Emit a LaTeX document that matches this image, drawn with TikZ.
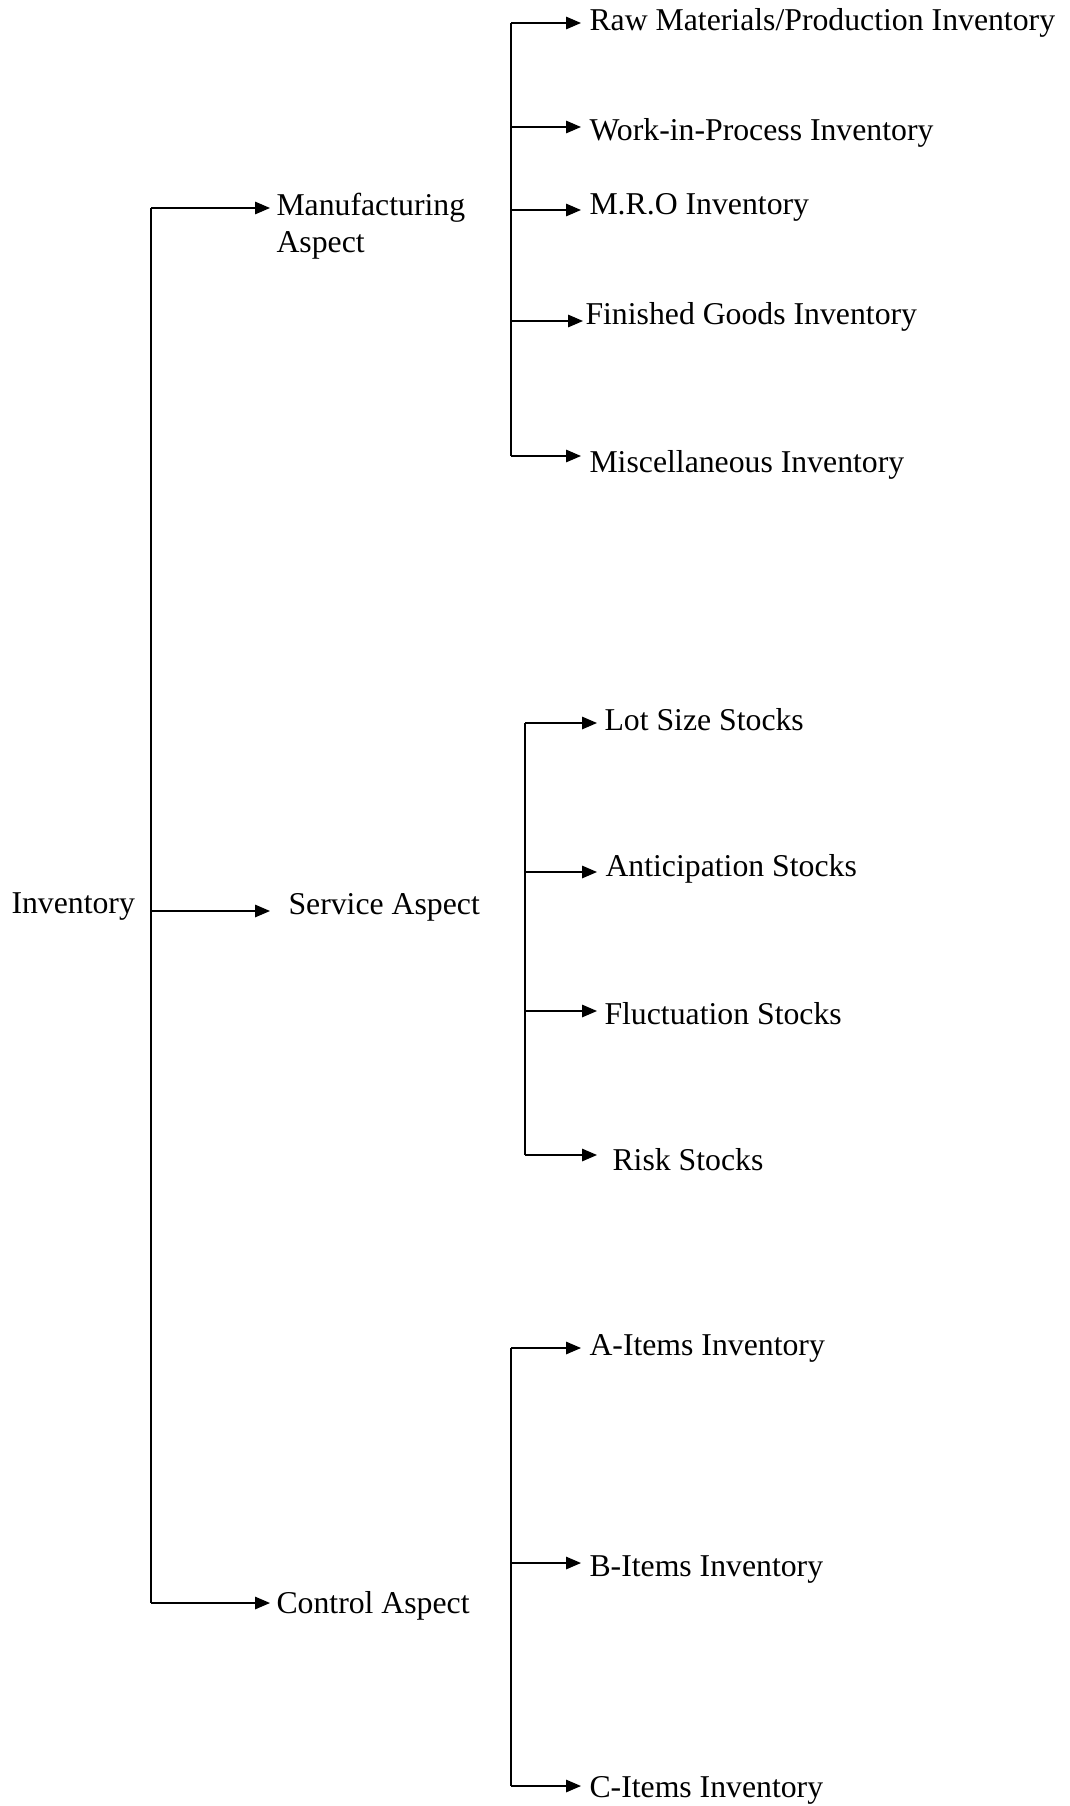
\documentclass[tikz,border=0pt]{standalone}
\usepackage{fontspec}
\setmainfont{Liberation Serif}
\usetikzlibrary{arrows.meta}

\begin{document}
\begin{tikzpicture}[x=0.4pt, y=-0.4pt]

    % styly
    \tikzset{
        lbl/.style={anchor=west, inner sep=0pt, font=\fontsize{12.7}{14.8}\selectfont,
                    text height=1.5ex, text depth=.25ex},
        arr/.style={-{Triangle[length=6pt, width=5pt]}, line width=0.6pt},
        trunk/.style={line width=0.6pt}
    }

    % rozměry obrázku
    \useasboundingbox (0,0) rectangle (1069,1806);

    % --- kořen a hlavní kmen ---
    \node[lbl] (inv) at (11,906) {Inventory};
    \coordinate (tm) at (151,208);
    \coordinate (ts) at (151,911);
    \coordinate (tc) at (151,1603);
    \draw[trunk] (tm) -- (tc);

    \node[anchor=west, inner sep=0pt, align=left, font=\fontsize{12.7}{14.8}\selectfont]
        (manuf) at (276,226) {Manufacturing\\Aspect};
    \node[lbl] (serv) at (288,907) {Service Aspect};
    \node[lbl] (ctrl) at (276,1606) {Control Aspect};

    \draw[arr] (tm) -- (270,208);
    \draw[arr] (ts) -- (270,911);
    \draw[arr] (tc) -- (270,1603);

    % --- výrobní hledisko ---
    \coordinate (m1) at (511,23);
    \coordinate (m2) at (511,127);
    \coordinate (m3) at (511,210);
    \coordinate (m4) at (511,321);
    \coordinate (m5) at (511,456);
    \draw[trunk] (m1) -- (m5);

    \node[lbl] (raw)  at (589,23)  {Raw Materials/Production Inventory};
    \node[lbl] (wip)  at (589,133) {Work-in-Process Inventory};
    \node[lbl] (mro)  at (589,207) {M.R.O Inventory};
    \node[lbl] (fin)  at (585,317) {Finished Goods Inventory};
    \node[lbl] (misc) at (589,465) {Miscellaneous Inventory};

    \draw[arr] (m1) -- (581,23);
    \draw[arr] (m2) -- (581,127);
    \draw[arr] (m3) -- (581,210);
    \draw[arr] (m4) -- (583,321);
    \draw[arr] (m5) -- (581,456);

    % --- hledisko služeb ---
    \coordinate (s1) at (525,723);
    \coordinate (s2) at (525,872);
    \coordinate (s3) at (525,1011);
    \coordinate (s4) at (525,1155);
    \draw[trunk] (s1) -- (s4);

    \node[lbl] (lot)   at (604,723)  {Lot Size Stocks};
    \node[lbl] (antic) at (605,869)  {Anticipation Stocks};
    \node[lbl] (fluct) at (604,1017) {Fluctuation Stocks};
    \node[lbl] (risk)  at (612,1163) {Risk Stocks};

    \draw[arr] (s1) -- (597,723);
    \draw[arr] (s2) -- (597,872);
    \draw[arr] (s3) -- (597,1011);
    \draw[arr] (s4) -- (597,1155);

    % --- hledisko řízení ---
    \coordinate (c1) at (511,1348);
    \coordinate (c2) at (511,1563);
    \coordinate (c3) at (511,1786);
    \draw[trunk] (c1) -- (c3);

    \node[lbl] (aitm) at (589,1348) {A-Items Inventory};
    \node[lbl] (bitm) at (589,1569) {B-Items Inventory};
    \node[lbl] (citm) at (589,1790) {C-Items Inventory};

    \draw[arr] (c1) -- (581,1348);
    \draw[arr] (c2) -- (581,1563);
    \draw[arr] (c3) -- (581,1786);

\end{tikzpicture}
\end{document}
